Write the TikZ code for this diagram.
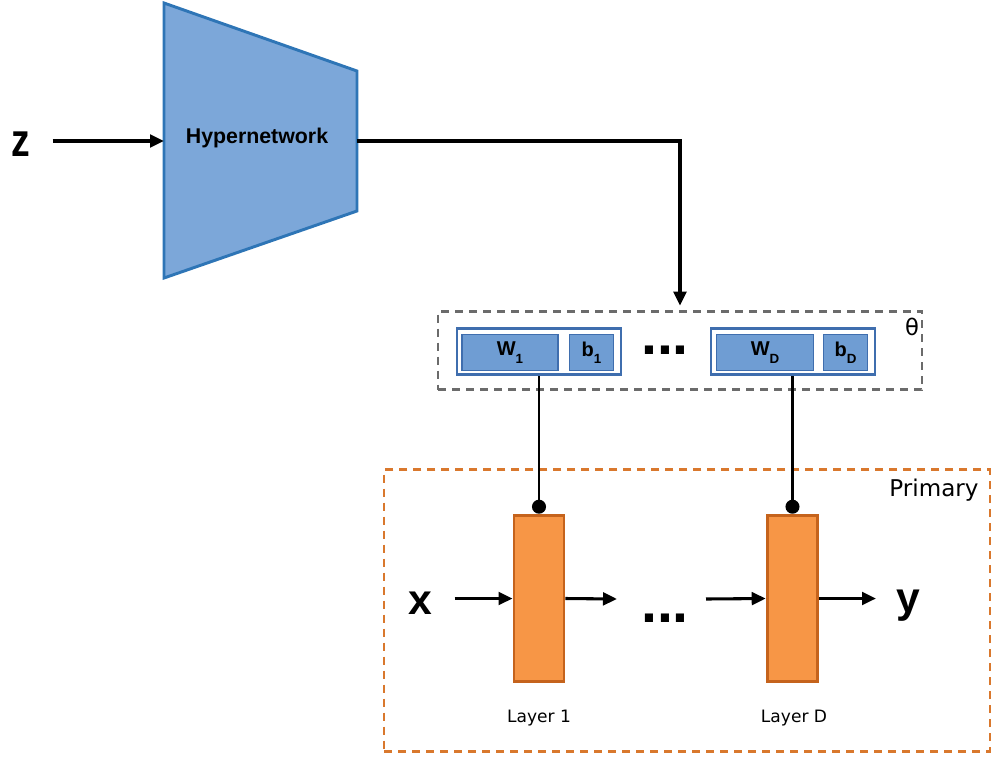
\documentclass[tikz,border=0pt]{standalone}
\usepackage{fontspec}
\setmainfont{Liberation Sans}
\newfontfamily\labelfont{DejaVu Sans}
\usetikzlibrary{arrows.meta}

\definecolor{hyperfill}{HTML}{7CA7D9}
\definecolor{hyperline}{HTML}{2E75B6}
\definecolor{parfill}{HTML}{6F9DD3}
\definecolor{parline}{HTML}{3F6EAE}
\definecolor{layerfill}{HTML}{F79646}
\definecolor{layerline}{HTML}{C5631C}
\definecolor{primline}{HTML}{D9782D}
\definecolor{thetaline}{HTML}{6B6B6B}

% index set low beside a bold letter
\newcommand{\lowidx}[1]{\raisebox{-5.5pt}{\fontsize{10}{10}\selectfont #1}}

\begin{document}
\begin{tikzpicture}[x=0.75pt,y=-0.75pt,
  flow/.style={draw=black,line width=2.3pt,-{Triangle[length=10.5pt,width=9.5pt]}},
  pin/.style={draw=black,line width=1.6pt,-{Circle[length=10.5pt]}},
  bigvar/.style={font=\bfseries\fontsize{32}{36}\selectfont,inner sep=0pt},
  parblock/.style={draw=parline,line width=2.2pt,fill=white,minimum height=35pt,inner sep=0pt},
  parcell/.style={draw=parline,line width=0.8pt,fill=parfill,minimum height=27pt,inner sep=0pt,
                  font=\bfseries\fontsize{15}{18}\selectfont},
  layer/.style={draw=layerline,fill=layerfill,line width=2.2pt,minimum height=125pt,inner sep=0pt},
  dashbox/.style={line width=2.2pt,dash pattern=on 6pt off 4.5pt,inner sep=0pt},
  caption/.style={font=\labelfont\fontsize{12.8}{15}\selectfont,inner sep=0pt},
  dots/.style={font=\bfseries\fontsize{43}{45}\selectfont,inner sep=0pt,anchor=base}
]
\useasboundingbox (0,0) rectangle (992,758);

% hypernetwork body
\draw[fill=hyperfill,draw=hyperline,line width=2.2pt,line join=miter]
  (164,3) -- (357,71) -- (357,211) -- (164,278) -- cycle;
\coordinate (hin) at (164,141);
\coordinate (hout) at (357,141);
\node[font=\bfseries\fontsize{16}{19}\selectfont,inner sep=0pt] (hyper) at (257,138) {Hypernetwork};

% input z
\node[font=\bfseries\fontsize{35}{40}\selectfont,inner sep=0pt] (z) at (20.5,144) {\scalebox{0.8}[1]{z}};
\draw[flow,shorten <=24pt] (z.center |- hin) -- (hin);

% parameter set theta
\node[dashbox,draw=thetaline,minimum width=363pt,minimum height=59pt] (theta) at (680,350.5) {};
\node[font=\labelfont\fontsize{17}{20}\selectfont,inner sep=0pt] (thlabel) at (912,327) {θ};
\draw[flow,shorten >=3pt] (hout) -| (theta.north);

\node[parblock,minimum width=123pt] (blk1) at (539,351.5) {};
\node[parcell,minimum width=72pt] (w1) at (510,352.5) {W\lowidx{1}};
\node[parcell,minimum width=32.5pt] (b1) at (591.5,352.5) {b\lowidx{1}};

\node[parblock,minimum width=123pt] (blkD) at (793,351.5) {};
\node[parcell,minimum width=73pt] (wD) at (765,352.5) {W\lowidx{D}};
\node[parcell,minimum width=32.5pt] (bD) at (845.5,352.5) {b\lowidx{D}};

\node[dots] (pdots) at (665,354) {...};

% primary network
\node[dashbox,draw=primline,minimum width=454.5pt,minimum height=211pt] (prim) at (687,610.5) {};
\node[font=\labelfont\fontsize{17.3}{20}\selectfont,inner sep=0pt] (primlabel) at (934,490) {Primary};

\node[layer,minimum width=37.5pt] (lay1) at (539,598.5) {};
\node[layer,minimum width=38pt] (layD) at (792.5,598.5) {};

\draw[pin] (blk1.south -| lay1.north) -- (lay1.north);
\draw[pin] (blkD.south -| layD.north) -- (layD.north);

\node[bigvar] (x) at (420,603) {x};
\node[bigvar] (y) at (908,606) {y};
\node[dots] (ldots) at (665,622) {...};

\coordinate (l1out) at (617,599);
\coordinate (lDin) at (706,599);
\draw[flow,shorten <=26pt] (x.center |- lay1.west) -- (lay1.west);
\draw[flow] (lay1.east) -- (l1out);
\draw[flow] (lDin) -- (layD.west);
\draw[flow,shorten >=24pt] (layD.east) -- (y.center |- layD.east);

\node[caption] (cap1) at (539,718) {Layer 1};
\node[caption] (capD) at (794,718) {Layer D};
\end{tikzpicture}
\end{document}
